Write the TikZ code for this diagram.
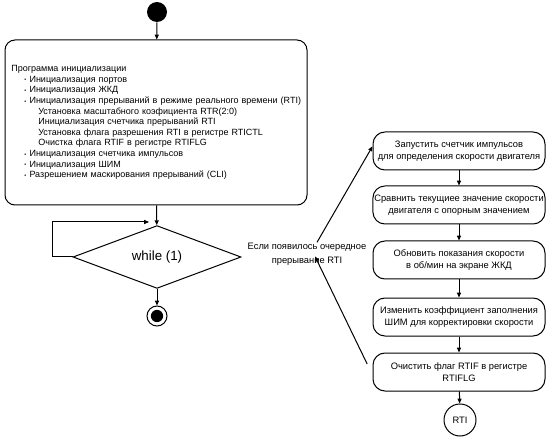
\documentclass[tikz,border=0pt]{standalone}
\usepackage{fontspec}
\setmainfont{Liberation Sans}
\usetikzlibrary{shapes.geometric,arrows.meta}

\newcommand{\initbul}[1]{\hspace*{12.75pt}\makebox[3.9pt][l]{\raisebox{0.3pt}{\scalebox{0.6}{\textbullet}}}#1}
\newcommand{\initsub}[1]{\hspace*{23.25pt}#1}

\tikzset{every picture/.style={line width=0.75pt}}
\tikzset{
  arr/.style={-{Triangle[length=3.6pt,width=3pt]}},
  bigbox/.style={draw,rounded corners=7.5pt,minimum width=226.5pt,minimum height=123.75pt,text width=223pt,align=left,inner xsep=1.75pt,inner ysep=2pt,font=\fontsize{6.75}{7.95}\selectfont},
  stepbox/.style={draw,rounded corners=9pt,minimum width=129pt,minimum height=28.5pt,align=center,inner sep=1pt,font=\fontsize{7}{8.6}\selectfont},
  startdot/.style={circle,fill,minimum size=15pt,inner sep=0pt},
  enddot/.style={circle,draw,minimum size=15pt,inner sep=0pt,path picture={\fill (path picture bounding box.center) circle (4.6pt);}},
}

\begin{document}
\begin{tikzpicture}[x=0.75pt,y=0.75pt,yscale=-1,xscale=1]
\useasboundingbox (0,0) rectangle (553,445);

% Text Node
\node [startdot] (start) at (157,12) {};
% Text Node
\node [bigbox] (init) at (156,122.5) {\hspace*{3pt}Программа инициализации\\
\initbul{Инициализация портов}\\
\initbul{Инициализация ЖКД}\\
\initbul{Инициализация прерываний в режиме реального времени (RTI)}\\
\initsub{Установка масштабного коэфициента RTR(2:0)}\\
\initsub{Инициализация счетчика прерываний RTI}\\
\initsub{Установка флага разрешения RTI в регистре RTICTL}\\
\initsub{Очистка флага RTIF в регистре RTIFLG}\\
\initbul{Инициализация счетчика импульсов}\\
\initbul{Инициализация ШИМ}\\
\initbul{Разрешением маскирования прерываний (CLI)}};
% Text Node
\node [diamond,draw,minimum width=126pt,minimum height=42pt,inner sep=0pt,font=\fontsize{10}{12}\selectfont] (loop) at (157,257) {while (1)};
% Text Node
\node [enddot] (finish) at (157,316) {};
% Text Node
\node [align=center,inner sep=1pt,font=\fontsize{7}{10.5}\selectfont] (cond) at (307,254) {Если появилось очередное\\прерывание RTI};

% Text Node
\node [stepbox] (s1) at (459,151) {Запустить счетчик импульсов\\для определения скорости двигателя};
% Text Node
\node [stepbox] (s2) at (459,205) {Сравнить текущиее значение скорости\\двигателя с опорным значением};
% Text Node
\node [stepbox] (s3) at (459,260) {Обновить показания скорости\\в об/мин на экране ЖКД};
% Text Node
\node [stepbox] (s4) at (459,317) {Изменить коэффициент заполнения\\ШИМ для корректировки скорости};
% Text Node
\node [stepbox] (s5) at (459,372) {Очистить флаг RTIF в регистре\\RTIFLG};
% Text Node
\node [circle,draw,minimum size=24pt,inner sep=0pt,font=\fontsize{7}{8}\selectfont] (rti) at (460,420) {RTI};

\coordinate (loopin) at (149,222);

% Connection
\draw [arr] (start) -- (init);
% Connection
\draw [arr] (init) -- (loop);
% Connection
\draw [arr] (loop.west) -- ++(-20,0) |- (loopin);
% Connection
\draw [arr] (loop) -- (finish);
% Connection
\foreach \a/\b in {s1/s2,s2/s3,s3/s4,s4/s5,s5/rti}
  \draw [arr] (\a) -- (\b);
% Connection
\draw [arr] ([shift={(7.5pt,1pt)}]cond.north) -- ([yshift=-3.5pt]s1.west);
% Connection
\draw [arr] ([shift={(-4pt,-6pt)}]s5.west) -- ([shift={(6pt,-8pt)}]cond.south);

\end{tikzpicture}
\end{document}
